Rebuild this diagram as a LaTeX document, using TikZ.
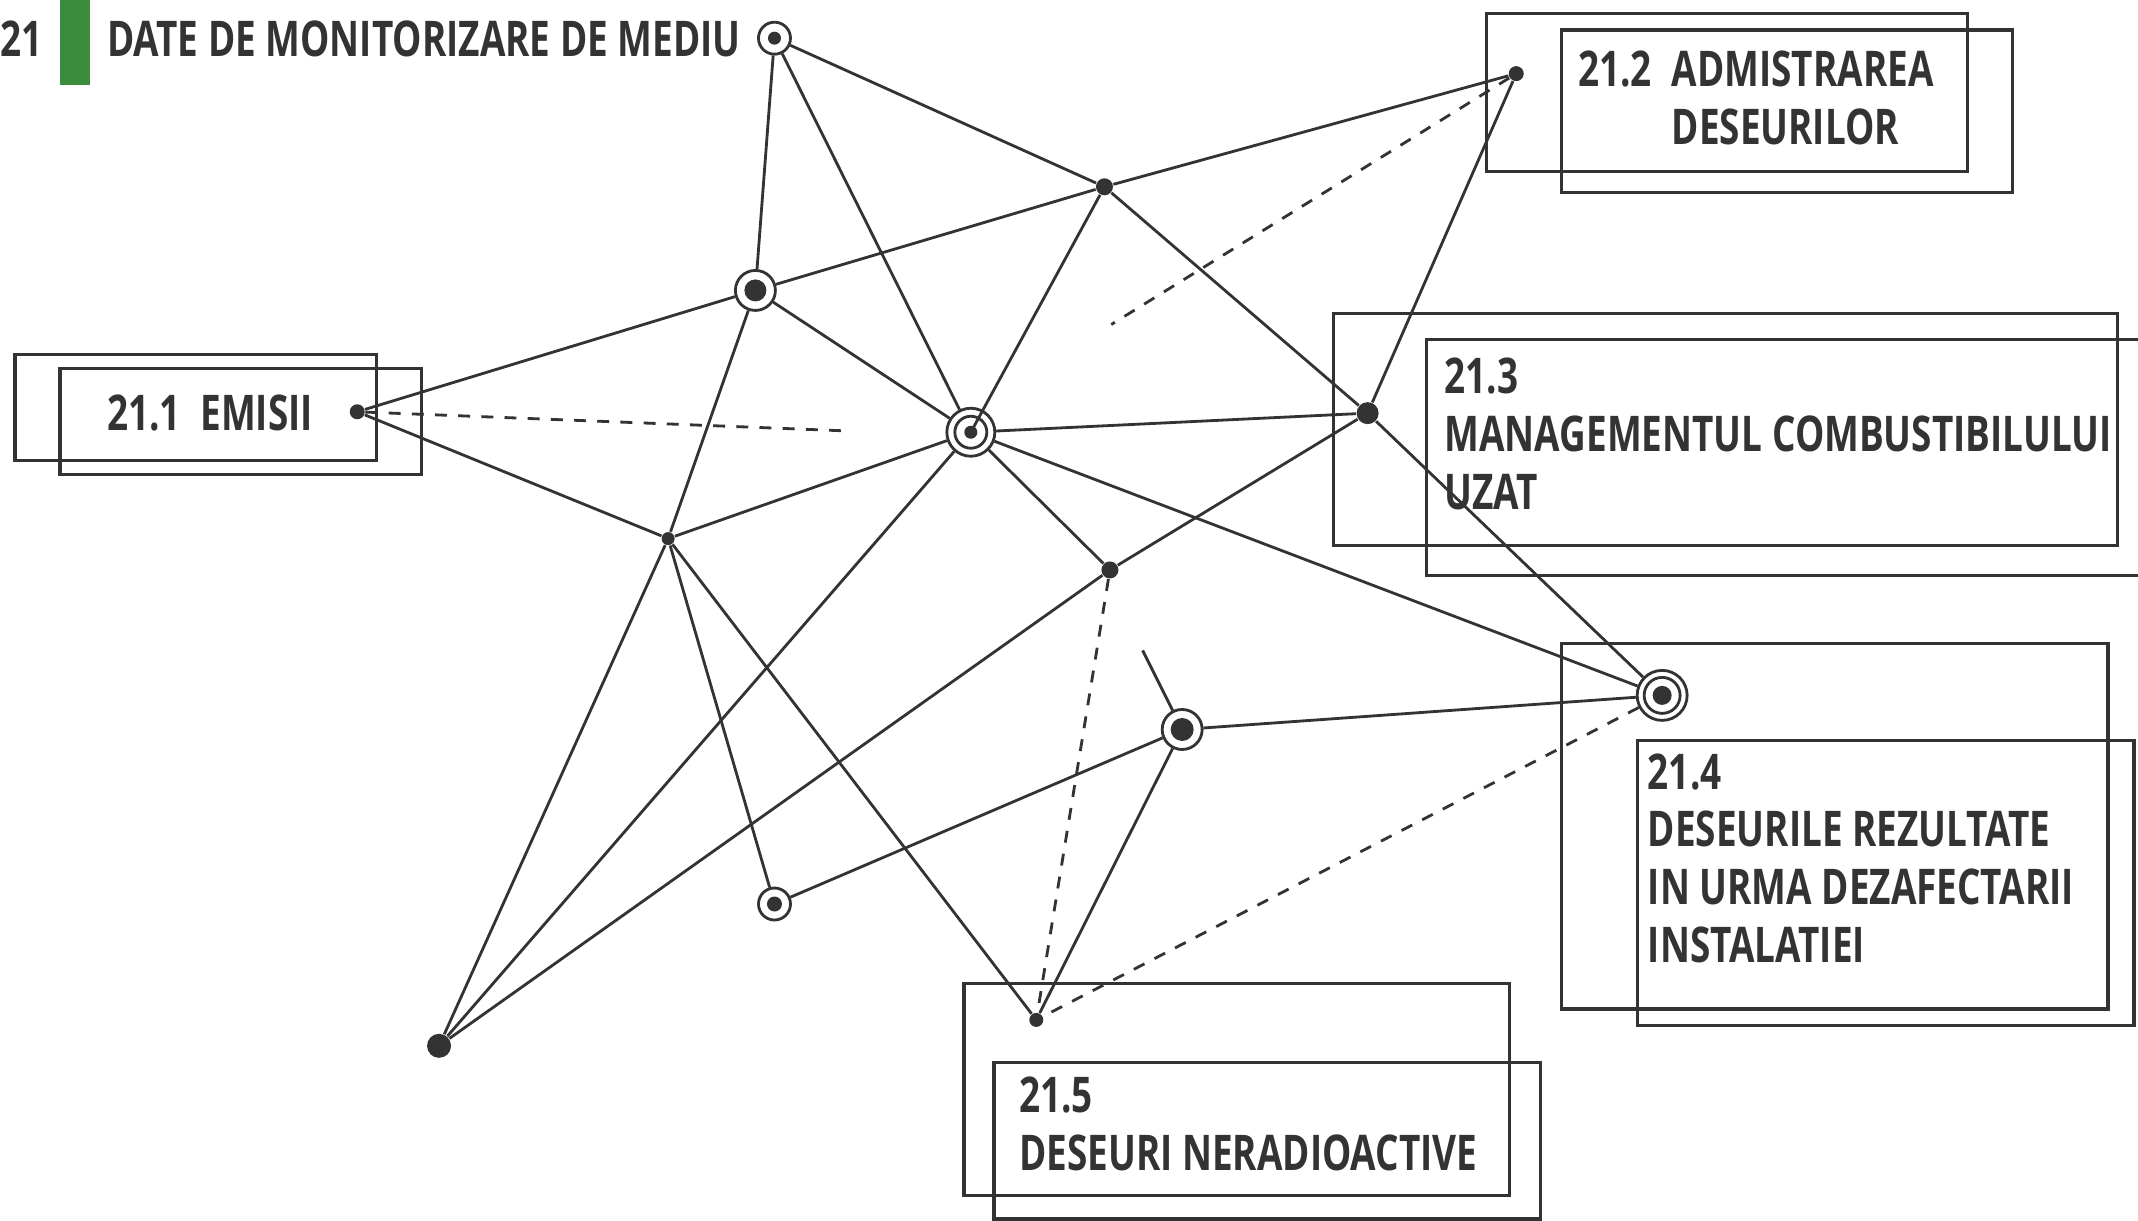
\documentclass[tikz,border=0pt]{standalone}
\usepackage{fontspec}
\usepackage{tikz}
\newfontfamily\boxfont[FakeStretch=0.75]{Open Sans}
\definecolor{mydark}{RGB}{51,51,51}
\definecolor{mygreen}{RGB}{60,140,62}
\tikzset{
  blob/.style={circle, fill=mydark, inner sep=0pt, minimum size=#1},
  ringnode/.style 2 args={circle, draw=mydark, fill=white, line width=0.8pt,
    inner sep=0pt, minimum size=#1,
    path picture={\fill[mydark] (path picture bounding box.center) circle (#2);}},
  twinring/.style n args={3}{circle, draw=mydark, fill=white, line width=0.8pt,
    inner sep=0pt, minimum size=#1,
    path picture={\draw[mydark, line width=0.8pt] (path picture bounding box.center) circle (#2);
      \fill[mydark] (path picture bounding box.center) circle (#3);}},
  link/.style={draw=mydark, line width=0.8pt},
  dashlink/.style={draw=mydark, line width=0.8pt, dash pattern=on 3.4pt off 3.2pt},
  frame/.style={draw=mydark, line width=0.9pt},
  boxtext/.style={anchor=north west, inner sep=0pt, align=left, text=mydark,
    font=\boxfont\bfseries\fontsize{14}{16.5}\selectfont}
}
\begin{document}
\begin{tikzpicture}[x=0.13635mm, y=-0.13635mm]
  \useasboundingbox (0,0) rectangle (1568,895);

  % Heading
  \node[boxtext] (num) at (0,15) {21};
  \fill[mygreen] (44,0) rectangle (66,62);
  \node[boxtext] (title) at (78,15) {DATE DE MONITORIZARE DE MEDIU};

  % Double frames
  \draw[frame] (11,260) rectangle (276,338);
  \draw[frame] (44,270) rectangle (309,348);
  \draw[frame] (1090,10) rectangle (1443,126);
  \draw[frame] (1145,22) rectangle (1476,141);
  \draw[frame] (978,230) rectangle (1553,400);
  \draw[frame] (1046,249) rectangle (1575,422);
  \draw[frame] (1145,472) rectangle (1546,740);
  \draw[frame] (1201,543) rectangle (1565,752);
  \draw[frame] (707,721) rectangle (1107,877);
  \draw[frame] (729,779) rectangle (1130,894);

  % Frame texts
  \node[boxtext] (emisii) at (78,289) {21.1\hspace{0.4em}EMISII};
  \node[boxtext] (admin) at (1157,37) {21.2\hspace{0.4em}ADMISTRAREA\\\phantom{21.2\hspace{0.4em}}DESEURILOR};
  \node[boxtext] (fuel) at (1059,262) {21.3\\MANAGEMENTUL COMBUSTIBILULUI\\UZAT};
  \node[boxtext] (decom) at (1208,552) {21.4\\DESEURILE REZULTATE\\IN URMA DEZAFECTARII\\INSTALATIEI};
  \node[boxtext] (nonrad) at (747,789) {21.5\\DESEURI NERADIOACTIVE};

  % Network points
  \node[ringnode={3.2mm}{0.65mm}] (top) at (568,28) {};
  \node[blob=1.7mm] (upper) at (810,137) {};
  \node[blob=1.5mm] (admdot) at (1112,54) {};
  \node[ringnode={4.0mm}{1.1mm}] (leftring) at (554,213) {};
  \node[blob=1.5mm] (emdot) at (262,302) {};
  \node[twinring={4.8mm}{1.6mm}{0.65mm}] (hub) at (712,317) {};
  \node[blob=2.2mm] (fueldot) at (1003,303) {};
  \node[blob=1.3mm] (mid) at (490,395) {};
  \node[blob=1.7mm] (low) at (814,418) {};
  \node[ringnode={4.0mm}{1.15mm}] (lowring) at (867,535) {};
  \node[twinring={5.0mm}{1.8mm}{0.95mm}] (decomring) at (1219,510) {};
  \node[ringnode={3.2mm}{0.75mm}] (smallring) at (568,663) {};
  \node[blob=2.4mm] (corner) at (322,767) {};
  \node[blob=1.4mm] (nonraddot) at (760,748) {};
  \coordinate (emend) at (620,316);
  \coordinate (admend) at (815,238);
  \coordinate (stubend) at (838,477);

  % Solid links
  \foreach \u/\v in {top/leftring, top/hub, top/upper, upper/admdot, upper/leftring,
      upper/fueldot, admdot/fueldot, leftring/emdot, leftring/hub, leftring/mid,
      emdot/mid, hub/fueldot, hub/mid, hub/low, hub/decomring, hub/corner,
      fueldot/low, fueldot/decomring, mid/corner, mid/smallring, mid/nonraddot,
      low/corner, lowring/decomring, lowring/smallring, lowring/nonraddot,
      lowring/stubend}
    \draw[link] (\u) -- (\v);
  \draw[link] (upper) -- (hub.center);

  % Dashed links
  \draw[dashlink] (emdot) -- (emend);
  \draw[dashlink] (admdot) -- (admend);
  \draw[dashlink] (low) -- (nonraddot);
  \draw[dashlink] (decomring) -- (nonraddot);
\end{tikzpicture}
\end{document}
